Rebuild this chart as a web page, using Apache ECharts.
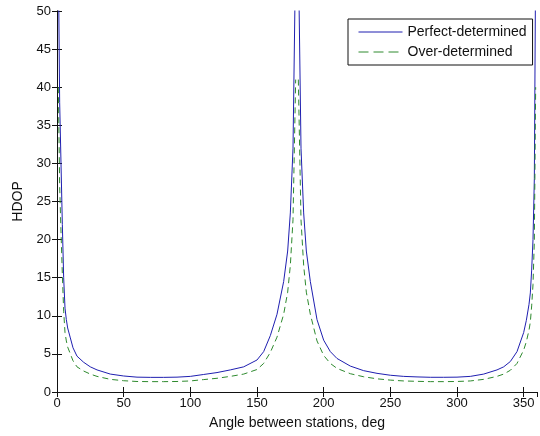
<!DOCTYPE html>
<html>
<head>
<meta charset="utf-8">
<script src="https://cdn.jsdelivr.net/npm/echarts@6/dist/echarts.min.js"></script>
<style>
  html, body { margin: 0; padding: 0; background: #fff; }
  #chart { width: 540px; height: 436px; }
</style>
</head>
<body>
<div id="chart"></div>
<script>
// angle between stations (deg); 0, 180 and 360 are singular and left out
const angles = [1, 2, 3, 4, 5, 6, 7, 8, 10, 12, 15, 20, 25, 30, 40, 50, 60, 70, 80, 90, 100, 110, 120, 130, 140, 150, 155, 160, 165, 170, 173, 175, 177, 179,
  180,
  181, 183, 185, 187, 190, 195, 200, 205, 210, 220, 230, 240, 250, 260, 270, 280, 290, 300, 310, 320, 330, 335, 340, 345, 350, 352, 354, 355, 356, 357, 358, 359];

const perfectHdop = [57, 38, 30, 22, 15, 11, 9.5, 8.4, 7.1, 5.8, 4.7, 3.9, 3.3, 2.9, 2.35, 2.1, 1.95, 1.92, 1.92, 1.95, 2.05, 2.3, 2.55, 2.9, 3.3, 4.2, 5.3, 7.4, 10.2, 14.5, 18.5, 23.5, 32, 58,
  null,
  58, 32, 23.5, 18.5, 14.5, 9.5, 6.8, 5.3, 4.4, 3.4, 2.8, 2.45, 2.2, 2.05, 1.98, 1.93, 1.93, 1.95, 2.05, 2.35, 2.9, 3.3, 4.0, 5.3, 7.8, 9.4, 11.5, 13, 16, 20, 28, 57];

const overHdop = [40, 27, 21, 15.5, 10.6, 7.8, 6.7, 5.9, 5.0, 4.1, 3.3, 2.75, 2.35, 2.05, 1.66, 1.48, 1.38, 1.36, 1.36, 1.38, 1.45, 1.63, 1.8, 2.05, 2.35, 2.95, 3.75, 5.2, 7.2, 10.2, 13.1, 16.6, 22.6, 41,
  null,
  41, 22.6, 16.6, 13.1, 10.2, 6.7, 4.8, 3.75, 3.1, 2.4, 2.0, 1.73, 1.56, 1.45, 1.4, 1.36, 1.36, 1.38, 1.45, 1.66, 2.05, 2.35, 2.85, 3.75, 5.5, 6.6, 8.1, 9.2, 11.3, 14.1, 19.8, 40];

const xTicks = [0, 50, 100, 150, 200, 250, 300, 350];
const yTicks = [0, 5, 10, 15, 20, 25, 30, 35, 40, 45, 50];

const FONT = '"Liberation Sans", Arial, Helvetica, sans-serif';
const INK = '#111';
const BLUE = '#1f1fb0';
const GREEN = '#2e8a2e';

const pairs = (ys) => angles.map((a, i) => [a, ys[i]]);

const baseX = {
  type: 'value', min: 0, max: 360, interval: xTicks[1] - xTicks[0],
  axisLine: { lineStyle: { color: INK, width: 1 } },
  axisTick: { inside: true, length: 5, lineStyle: { color: INK } },
  splitLine: { show: false }
};
const baseY = {
  type: 'value', min: yTicks[0], max: yTicks[yTicks.length - 1], interval: yTicks[1] - yTicks[0],
  axisLine: { lineStyle: { color: INK, width: 1 } },
  axisTick: { inside: true, length: 5, lineStyle: { color: INK } },
  splitLine: { show: false }
};

const chart = echarts.init(document.getElementById('chart'), null, { renderer: 'canvas' });
chart.setOption({
  animation: false,
  backgroundColor: '#fff',
  textStyle: { fontFamily: FONT },
  grid: { left: 57, top: 11, right: 3, bottom: 44, containLabel: false },
  legend: {
    orient: 'vertical',
    left: 348, top: 19,
    backgroundColor: '#fff',
    borderColor: INK, borderWidth: 1, borderRadius: 0,
    padding: [6, 6, 6, 10],
    itemGap: 6, itemWidth: 44, itemHeight: 14,
    itemStyle: { opacity: 0 },
    lineStyle: { width: 1 },
    textStyle: { fontFamily: FONT, fontSize: 14, color: INK },
    data: [
      { name: 'Perfect-determined', lineStyle: { width: 1, color: BLUE } },
      { name: 'Over-determined', lineStyle: { width: 1, color: GREEN, type: [10, 5] } }
    ]
  },
  xAxis: [
    Object.assign({}, baseX, {
      position: 'bottom',
      name: 'Angle between stations, deg', nameLocation: 'middle', nameGap: 24,
      nameTextStyle: { fontFamily: FONT, fontSize: 14, color: INK },
      axisLabel: { fontFamily: FONT, fontSize: 13, color: INK, margin: 5, showMaxLabel: false,
        formatter: (v) => xTicks.includes(v) ? String(v) : '' }
    }),
    Object.assign({}, baseX, { position: 'top', axisLabel: { show: false } })
  ],
  yAxis: [
    Object.assign({}, baseY, {
      position: 'left',
      name: 'HDOP', nameLocation: 'middle', nameGap: 30, nameRotate: 90,
      nameTextStyle: { fontFamily: FONT, fontSize: 14, color: INK },
      axisLabel: { fontFamily: FONT, fontSize: 13, color: INK, margin: 6 }
    }),
    Object.assign({}, baseY, { position: 'right', axisLabel: { show: false } })
  ],
  series: [
    {
      name: 'Perfect-determined', type: 'line',
      data: pairs(perfectHdop),
      symbol: 'none', connectNulls: false, clip: true,
      lineStyle: { color: BLUE, width: 1 },
      itemStyle: { color: BLUE }
    },
    {
      name: 'Over-determined', type: 'line',
      data: pairs(overHdop),
      symbol: 'none', connectNulls: false, clip: true,
      lineStyle: { color: GREEN, width: 1, type: [6, 4] },
      itemStyle: { color: GREEN }
    }
  ]
});
</script>
</body>
</html>
